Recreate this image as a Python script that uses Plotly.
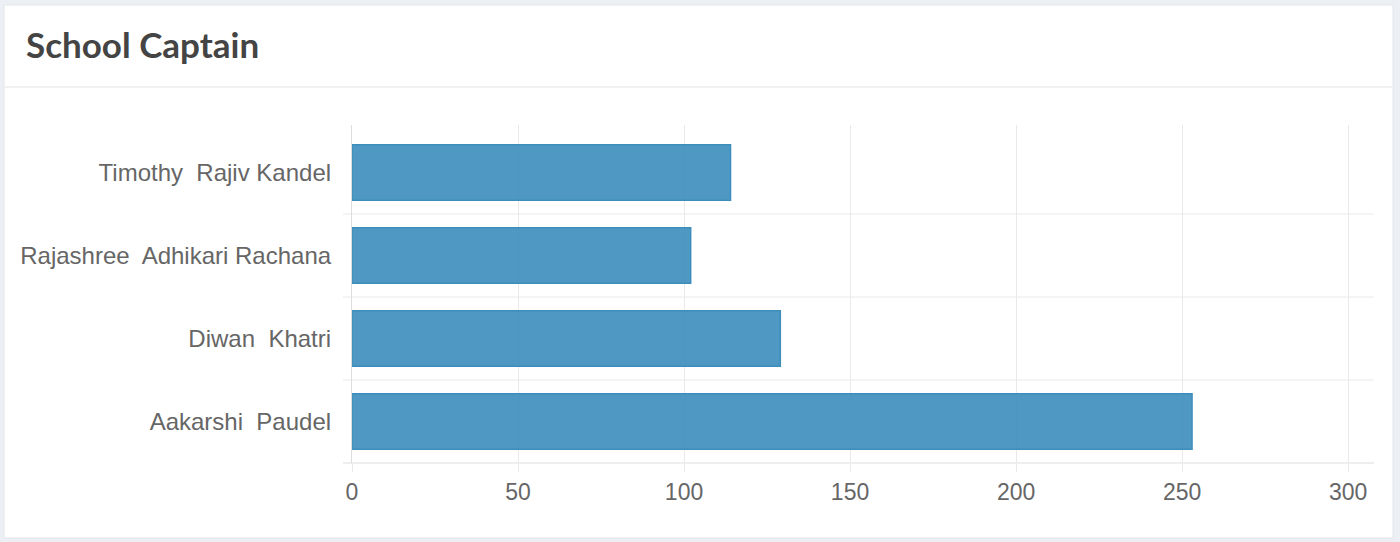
import plotly.graph_objects as go

# ---- data ----
candidates = ["Timothy  Rajiv Kandel", "Rajashree  Adhikari Rachana", "Diwan  Khatri", "Aakarshi  Paudel"]
votes = [114, 102, 129, 253]
x_ticks = [0, 50, 100, 150, 200, 250, 300]
title_text = "School Captain"

# ---- layout geometry (pixels) ----
W, H = 1400, 542
L, R, T, B = 352, 26, 125, 79
PW, PH = W - L - R, H - T - B
BAND = 83.0                       # px per category band
n = len(candidates)
y_lo = n - 0.5                    # bottom of (reversed) category axis
y_hi = -0.5 - (PH - n * BAND) / BAND   # a bit of empty space on top, like chart.js grid overhang


def xp(px):
    return (px - L) / PW


def yp(py):
    return (H - B - py) / PH


def ycat(v):
    return (y_lo - v) / (y_lo - y_hi)


labels = [c.replace("  ", "\u00a0 ") for c in candidates]

fig = go.Figure()
fig.add_trace(go.Bar(
    x=votes, y=labels, orientation="h",
    marker=dict(color="rgba(60,141,188,0.9)", line=dict(color="#3c8dbc", width=1.5)),
    hoverinfo="x+y",
))

shapes = []
# page card
shapes.append(dict(type="rect", xref="paper", yref="paper", layer="below",
                   x0=xp(4), x1=xp(1393), y0=yp(538), y1=yp(5),
                   fillcolor="white", line=dict(color="#e2e5e9", width=1)))
# header separator
shapes.append(dict(type="line", xref="paper", yref="paper", layer="below",
                   x0=xp(5), x1=xp(1392), y0=yp(87), y1=yp(87),
                   line=dict(color="#eeeeee", width=1.5)))
# category boundary grid lines (chart.js offset grid)
for i in range(n):
    yb = i + 0.5
    shapes.append(dict(type="line", xref="paper", yref="paper", layer="below",
                       x0=xp(343), x1=1, y0=ycat(yb), y1=ycat(yb),
                       line=dict(color="#dddddd" if i == n - 1 else "#e9e9e9", width=1.2)))

fig.update_layout(
    width=W, height=H,
    margin=dict(l=L, r=R, t=T, b=B, pad=0),
    paper_bgcolor="#eceff3",
    plot_bgcolor="rgba(0,0,0,0)",
    shapes=shapes,
    showlegend=False,
    bargap=0.33,
    font=dict(family="Liberation Sans, Arial, sans-serif", color="#666666"),
    annotations=[dict(text="<b>" + title_text + "</b>", xref="paper", yref="paper",
                      x=xp(24), y=yp(44), xanchor="left", yanchor="middle",
                      showarrow=False,
                      font=dict(family="Lato, Open Sans, sans-serif", size=35, color="#444444"))],
)
fig.update_xaxes(
    range=[0, 307.8], tickvals=x_ticks,
    showgrid=True, gridcolor="#e9e9e9", gridwidth=1.2,
    zeroline=False, showline=False,
    ticks="outside", ticklen=8, tickcolor="#e9e9e9", tickwidth=1.2,
    tickfont=dict(size=23, color="#666666"),
)
fig.update_yaxes(
    range=[y_lo, y_hi], categoryorder="array", categoryarray=labels,
    showgrid=False, zeroline=False,
    showline=True, linecolor="#dddddd", linewidth=1.2,
    ticks="", ticklabelstandoff=15,
    tickfont=dict(size=24, color="#666666"),
)

fig.write_html("out.html",
               config={"displayModeBar": False},
               post_script="document.body.style.margin='0';document.body.style.background='#eceff3';")
